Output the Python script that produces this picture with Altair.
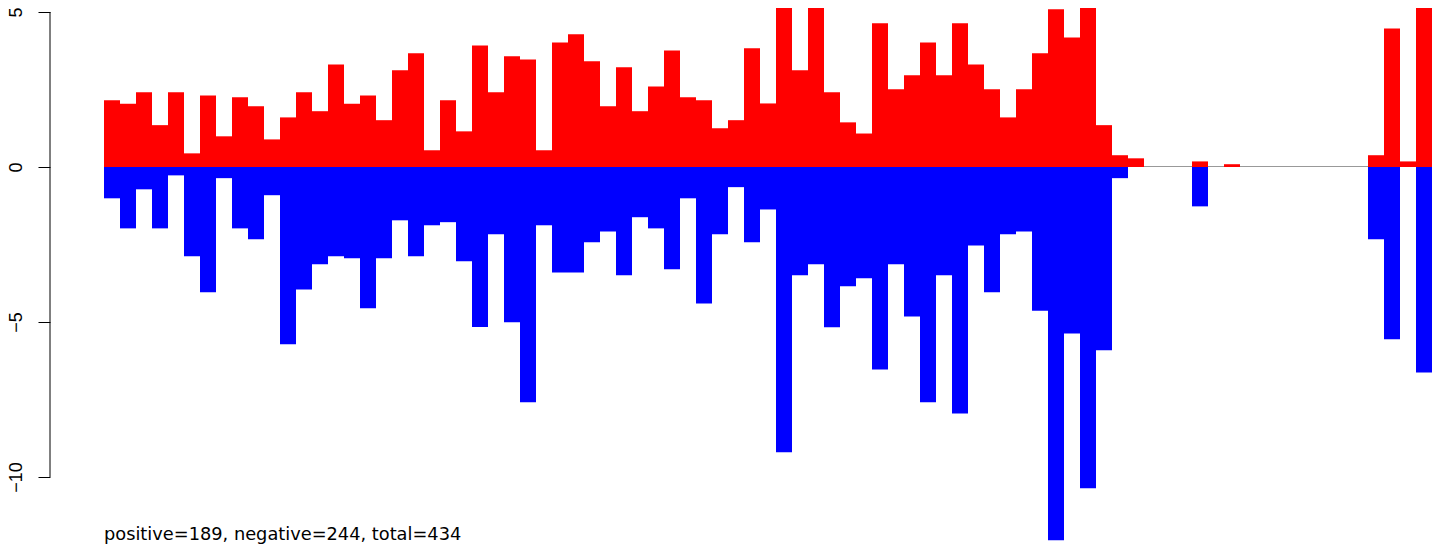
import altair as alt
import pandas as pd

# Values (one bar per index)
pos_values = [2.15, 2.04, 2.41, 1.35, 2.41, 0.44, 2.31, 0.99, 2.25, 1.96,
              0.89, 1.60, 2.41, 1.80, 3.31, 2.04, 2.31, 1.51, 3.12, 3.67,
              0.54, 2.15, 1.15, 3.92, 2.41, 3.57, 3.47, 0.54, 4.02, 4.28,
              3.41, 1.96, 3.22, 1.80, 2.60, 3.76, 2.25, 2.15, 1.25, 1.51,
              3.83, 2.05, 6.00, 3.12, 5.90, 2.41, 1.44, 1.08, 4.64, 2.51,
              2.96, 4.02, 2.96, 4.64, 3.31, 2.51, 1.60, 2.51, 3.67, 5.09,
              4.18, 6.20, 1.35, 0.38, 0.28, 0, 0, 0, 0.18, 0,
              0.09, 0, 0, 0, 0, 0, 0, 0, 0, 0.38,
              4.47, 0.18, 6.10]
neg_values = [-1.01, -1.98, -0.72, -1.98, -0.27, -2.88, -4.04, -0.36, -1.98, -2.33,
              -0.91, -5.72, -3.95, -3.14, -2.88, -2.94, -4.56, -2.94, -1.72, -2.88,
              -1.88, -1.78, -3.04, -5.16, -2.17, -5.01, -7.59, -1.88, -3.40, -3.40,
              -2.43, -2.08, -3.49, -1.62, -1.98, -3.30, -1.01, -4.40, -2.17, -0.65,
              -2.43, -1.37, -9.20, -3.49, -3.14, -5.17, -3.85, -3.59, -6.53, -3.14,
              -4.82, -7.59, -3.49, -7.95, -2.53, -4.04, -2.17, -2.08, -4.64, -12.04,
              -5.37, -10.36, -5.91, -0.36, 0, 0, 0, 0, -1.27, 0,
              0, 0, 0, 0, 0, 0, 0, 0, 0, -2.33,
              -5.56, 0, -6.63]
y_ticks = [5, 0, -5, -10]
summary_text = "positive=189, negative=244, total=434"

n = len(pos_values)
df = pd.DataFrame({
    "x0": list(range(n)),
    "x1": [i + 1 for i in range(n)],
    "pos": pos_values,
    "neg": neg_values,
    "base": [0.0] * n,
})

FONT = "Liberation Sans"
W, H = 1386, 537
Y_TOP, Y_BOTTOM = 5.129, -12.194
PX_PER_UNIT = H / (Y_TOP - Y_BOTTOM)
xscale = alt.Scale(domain=[-3.375, 83.25], nice=False, zero=False)
yscale = alt.Scale(domain=[Y_BOTTOM, Y_TOP], nice=False, zero=False)

xenc = alt.X("x0:Q", scale=xscale, axis=None)

# zero reference line, drawn as a 1px band so it stays crisp
zero_df = pd.DataFrame({"a": [0], "b": [n], "y0": [0.0], "y1": [1.0 / PX_PER_UNIT]})
zero_line = alt.Chart(zero_df).mark_rect(color="#999999").encode(
    x=alt.X("a:Q", scale=xscale, axis=None),
    x2="b:Q",
    y=alt.Y("y0:Q", scale=yscale),
    y2="y1:Q",
)

red = alt.Chart(df).mark_rect(color="#ff0000", clip=True).encode(
    x=xenc,
    x2="x1:Q",
    y=alt.Y("pos:Q", scale=yscale,
            axis=alt.Axis(values=y_ticks, domain=False, grid=False, title="",
                          tickSize=12, tickWidth=1, tickColor="black",
                          labelFont=FONT, labelFontSize=18, labelColor="black",
                          labelAngle=270, labelAlign="center",
                          labelBaseline="alphabetic", labelPadding=17)),
    y2="base:Q",
)

blue = alt.Chart(df).mark_rect(color="#0000ff", clip=True).encode(
    x=xenc,
    x2="x1:Q",
    y=alt.Y("neg:Q", scale=yscale),
    y2="base:Q",
)

axis_df = pd.DataFrame({"top": [max(y_ticks)], "bottom": [min(y_ticks)]})
axis_line = alt.Chart(axis_df).mark_rule(color="black", strokeWidth=1).encode(
    x=alt.value(0),
    y=alt.Y("top:Q", scale=yscale),
    y2="bottom:Q",
)

text_df = pd.DataFrame({"t": [summary_text]})
note = alt.Chart(text_df).mark_text(
    align="left", baseline="alphabetic", font="DejaVu Sans", fontSize=17.8,
    color="black"
).encode(text="t:N", x=alt.value(54), y=alt.value(532))

chart = alt.layer(zero_line, red, blue, axis_line, note).properties(
    width=W, height=H,
    autosize=alt.AutoSizeParams(type="none"),
    padding={"left": 42, "top": 0, "right": 0, "bottom": 0},
).configure_view(stroke=None)

chart.save("out.html", embed_options={"renderer": "svg", "actions": False})
